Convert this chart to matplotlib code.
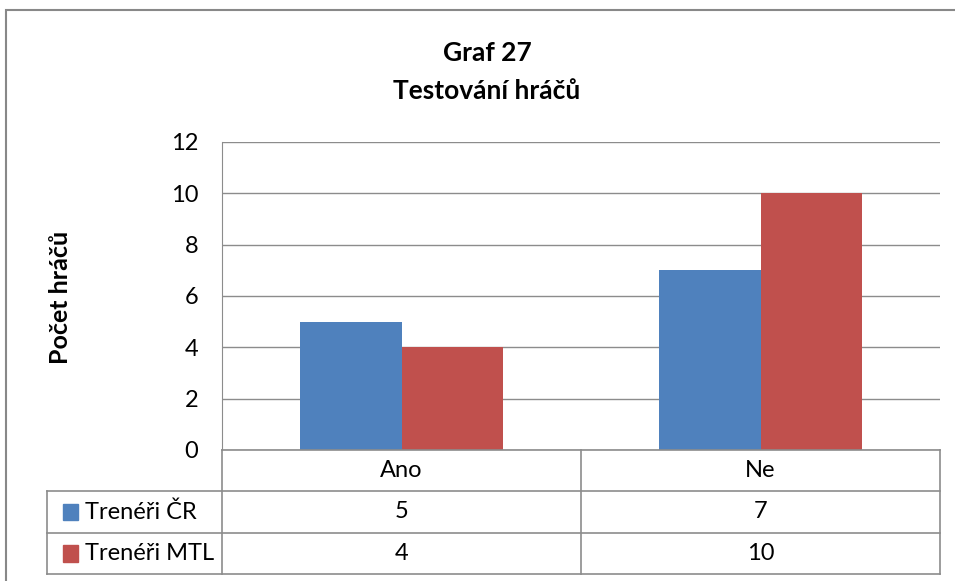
import matplotlib.pyplot as plt
from matplotlib.patches import Rectangle

plt.rcParams['font.family'] = ['Lato', 'DejaVu Sans']

# data
categories = ['Ano', 'Ne']
series_names = ['Trenéři ČR', 'Trenéři MTL']
cr_values = [5, 7]
mtl_values = [4, 10]
yticks = [0, 2, 4, 6, 8, 10, 12]
colors = ['#4F81BD', '#C0504D']
grid_col = '#8C8C8C'

W, H = 955, 581
fig = plt.figure(figsize=(W / 100, H / 100), dpi=100)

def px_axes(x0, y0, x1, y1):
    # pixel box (top-left origin) -> figure axes
    return fig.add_axes([x0 / W, 1 - y1 / H, (x1 - x0) / W, (y1 - y0) / H])

# outer chart border
fig.patches.append(Rectangle((6 / W, -0.02), 1.0, 1 - 10 / H + 0.02,
                             transform=fig.transFigure, fill=False,
                             edgecolor='#888888', linewidth=1.5))

# titles
fig.text(487 / W, 1 - 53 / H, 'Graf 27', ha='center', va='center',
         fontsize=19, fontweight='bold')
fig.text(487 / W, 1 - 91 / H, 'Testování hráčů', ha='center', va='center',
         fontsize=19, fontweight='bold')

# y label
fig.text(60 / W, 1 - 297 / H, 'Počet hráčů', rotation=90, ha='center',
         va='center', fontsize=18, fontweight='bold')

# main bar chart
ax = px_axes(222, 142, 940, 450)
x = range(len(categories))
bw = 0.283
ax.bar([i - bw / 2 for i in x], cr_values, width=bw, color=colors[0], zorder=3)
ax.bar([i + bw / 2 for i in x], mtl_values, width=bw, color=colors[1], zorder=3)
ax.set_xlim(-0.5, len(categories) - 0.5)
ax.set_ylim(0, 12)
ax.set_yticks(yticks)
ax.set_yticklabels([str(v) for v in yticks], fontsize=17)
ax.set_xticks([])
ax.yaxis.grid(True, color=grid_col, linewidth=1)
ax.set_axisbelow(True)
ax.tick_params(axis='y', length=0, pad=17)
for s in ['top', 'right', 'bottom']:
    ax.spines[s].set_visible(False)
ax.spines['left'].set_color(grid_col)

# data table under the chart
tx = px_axes(222, 450, 940, 574)
tx.set_xlim(-0.5, len(categories) - 0.5)
tx.set_ylim(3, 0)
tx.axis('off')
left = -0.5 - (222 - 47) / 359
lk = dict(color=grid_col, linewidth=1.2, clip_on=False)
tx.plot([-0.5, 1.5], [0, 0], **lk)
for r in [1, 2, 3]:
    tx.plot([left, 1.5], [r, r], **lk)
tx.plot([left, left], [1, 3], **lk)
for c in [-0.5, 0.5, 1.5]:
    tx.plot([c, c], [0, 3], **lk)
for i, cat in enumerate(categories):
    tx.text(i, 0.5, cat, ha='center', va='center', fontsize=17)
rows = [cr_values, mtl_values]
for r, (name, vals) in enumerate(zip(series_names, rows)):
    yc = r + 1.5
    tx.add_patch(Rectangle((left + 0.045, yc - 0.2), 0.04, 0.4,
                           color=colors[r], clip_on=False))
    tx.text(left + 0.105, yc, name, ha='left', va='center', fontsize=17)
    for i, v in enumerate(vals):
        tx.text(i, yc, str(v), ha='center', va='center', fontsize=17)

fig.savefig('out.png', dpi=100)
